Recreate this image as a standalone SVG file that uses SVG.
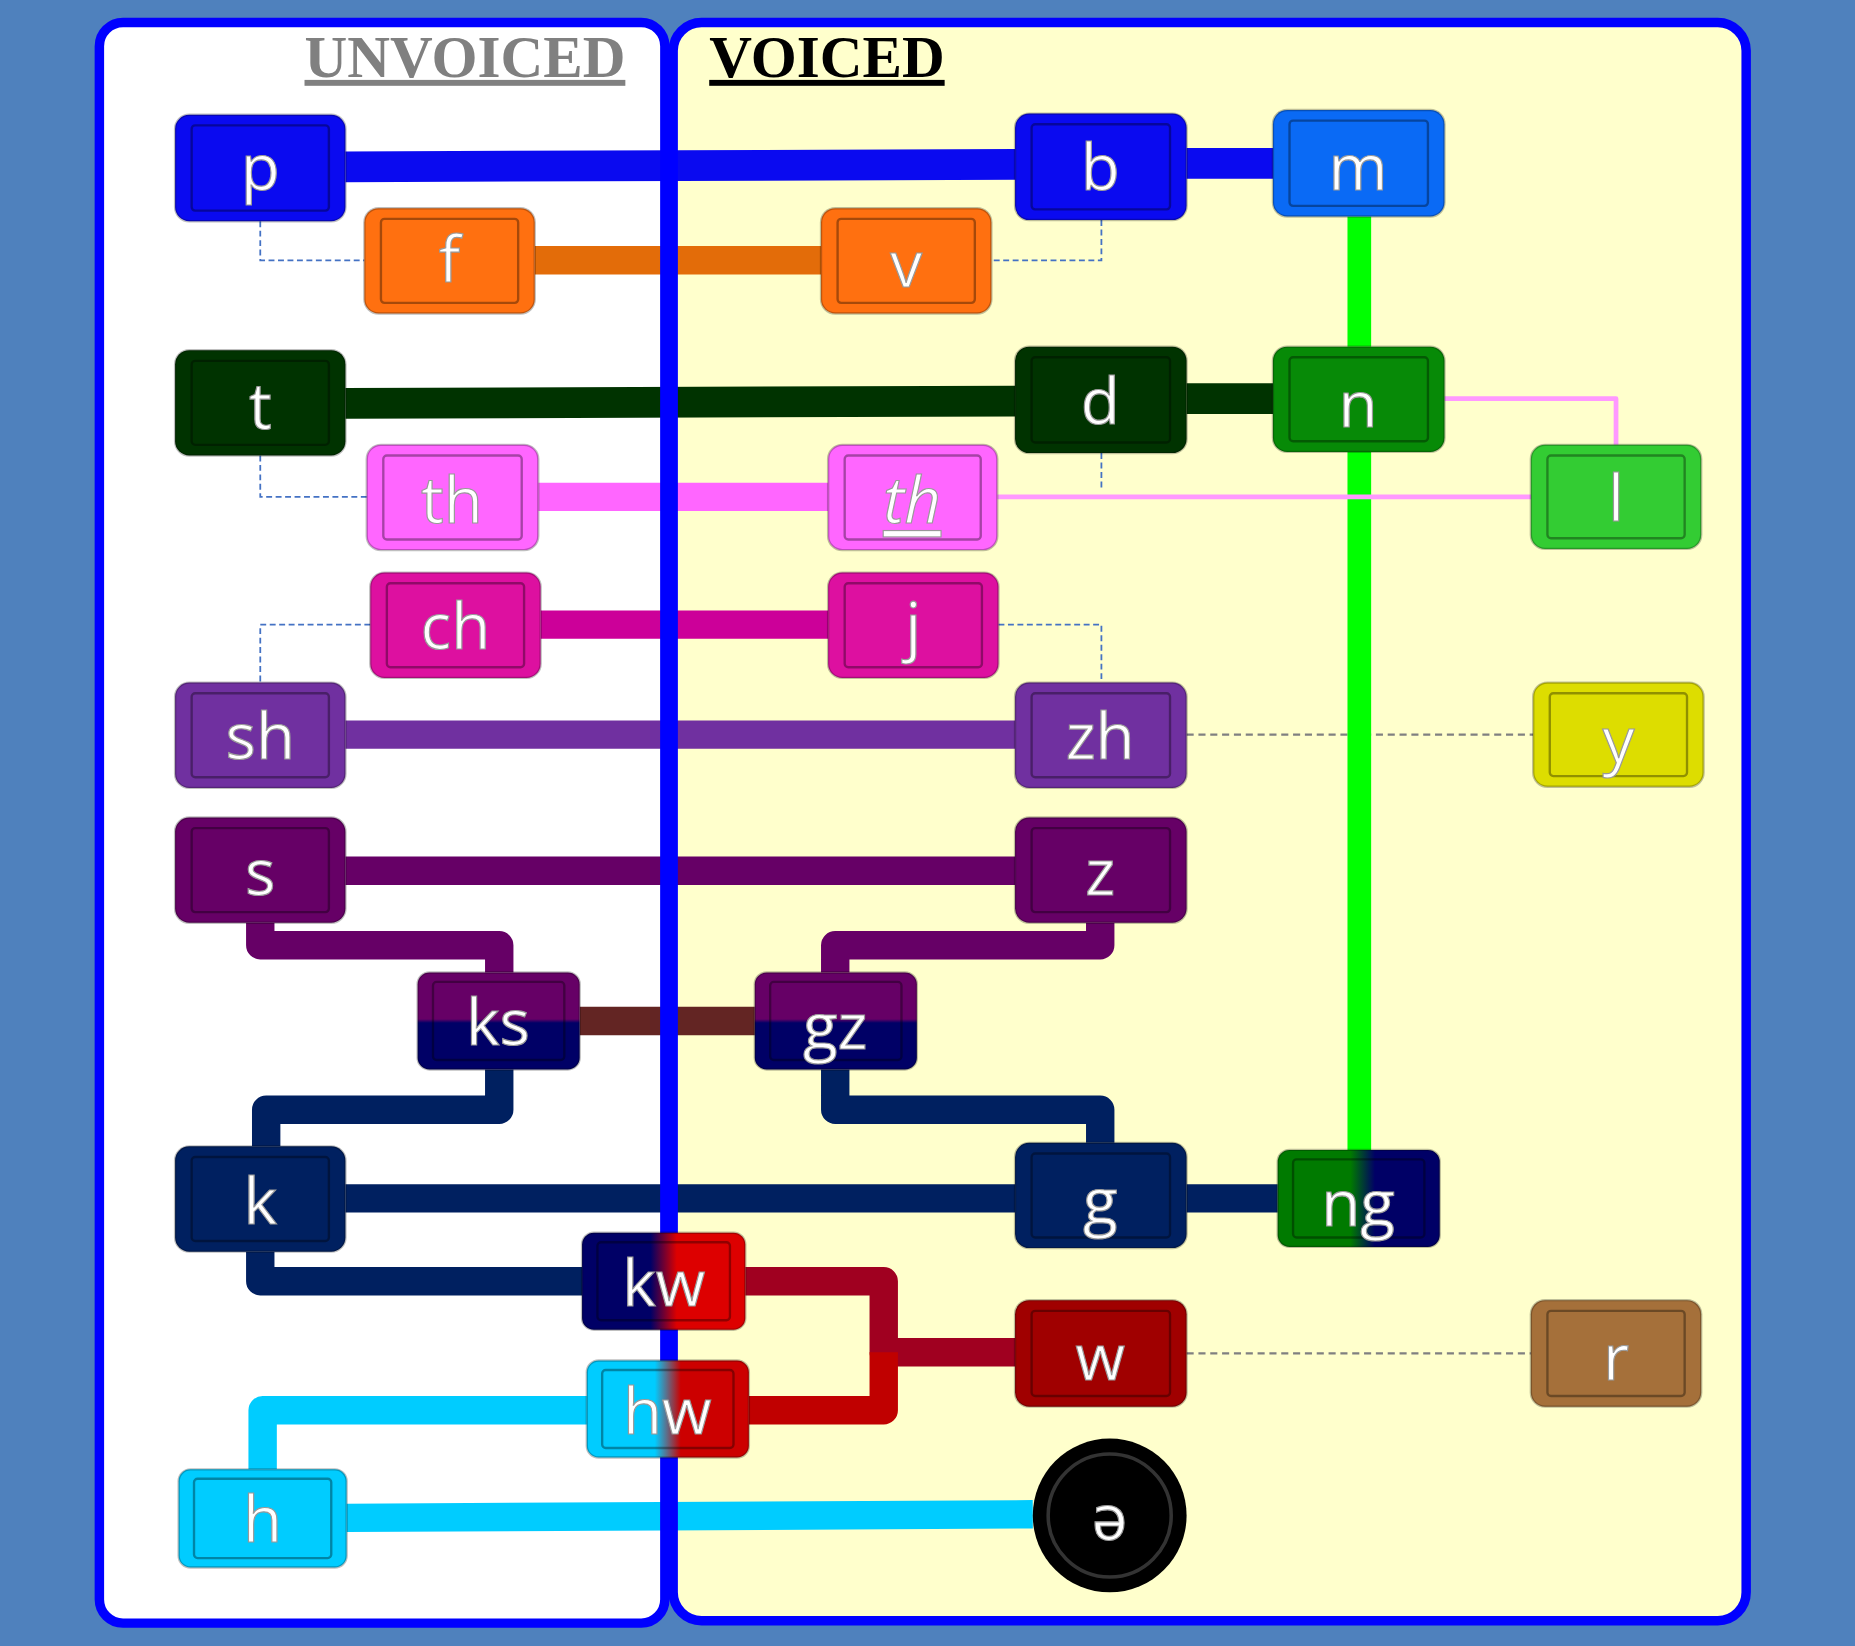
<svg xmlns="http://www.w3.org/2000/svg" width="1855" height="1646" viewBox="0 0 1855 1646">
<style>
.nd{stroke:rgba(0,0,0,0.25);stroke-width:2}
.in{fill:none;stroke:rgba(0,0,0,0.35);stroke-width:2}
.lb{font-family:"Open Sans","Noto Sans",sans-serif;font-size:54px;fill:#fff;text-anchor:middle;dominant-baseline:central;stroke:#999;stroke-width:1}
.c{fill:none;stroke-linejoin:round}
.dash{fill:none;stroke:#4472c4;stroke-width:1.5;stroke-dasharray:5 3}
.gd{fill:none;stroke:#808080;stroke-width:2;stroke-dasharray:6 4}
.hd{font-family:"Liberation Serif",serif;font-weight:bold;font-size:50px;text-decoration:underline}
</style>
<defs>
<linearGradient id="gks" x1="0" y1="0" x2="0" y2="1"><stop offset="0.48" stop-color="#660066"/><stop offset="0.52" stop-color="#000066"/></linearGradient>
<linearGradient id="gng" x1="0" y1="0" x2="1" y2="0"><stop offset="0.45" stop-color="#007a00"/><stop offset="0.6" stop-color="#000066"/></linearGradient>
<linearGradient id="gkw" x1="0" y1="0" x2="1" y2="0"><stop offset="0.42" stop-color="#000066"/><stop offset="0.58" stop-color="#dd0000"/></linearGradient>
<linearGradient id="ghw" x1="0" y1="0" x2="1" y2="0"><stop offset="0.42" stop-color="#00ccff"/><stop offset="0.58" stop-color="#cc0000"/></linearGradient>
</defs>
<rect width="1855" height="1646" fill="#4f81bd"/>
<g transform="scale(1.18304)">
<g id="panels">
<rect x="84" y="19" width="478" height="1353" rx="20" fill="#ffffff"/>
<rect x="569" y="19" width="907" height="1351" rx="24" fill="#ffffcc"/>
<text class="hd" x="393" y="65" fill="#808080" text-anchor="middle">UNVOICED</text>
<text class="hd" x="699" y="65" fill="#000" text-anchor="middle">VOICED</text>
</g>
<g id="connectors">
<path class="dash" d="M220 187V220H308M931 186V220H838M220 385V420H310M931 383V415M313 528H220V577M844 528H931V577"/>
<path class="gd" d="M1003 621H1296M1003 1144H1294"/>
<path class="c" stroke="#0a0af0" stroke-width="26" d="M292 141L858 139M1003 138H1076"/>
<path class="c" stroke="#e36c09" stroke-width="24" d="M452 220H694"/>
<path class="c" stroke="#00ff00" stroke-width="20" d="M1149 183V293M1149 382V972"/>
<path class="c" stroke="#003300" stroke-width="26" d="M292 341L858 339M1003 337H1076"/>
<path class="c" stroke="#ff66ff" stroke-width="24" d="M455 420H700"/>
<path class="c" stroke="#ff99ff" stroke-width="4" d="M843 420H1296M1221 337H1366V376"/>
<path class="c" stroke="#cc0099" stroke-width="24" d="M457 528H700"/>
<path class="c" stroke="#7030a0" stroke-width="24" d="M292 621H858"/>
<path class="c" stroke="#660066" stroke-width="24" d="M292 736H858M220 780V799H422V822M930 780V799H706V822"/>
<path class="c" stroke="#632523" stroke-width="24" d="M490 863H638"/>
<path class="c" stroke="#002060" stroke-width="24" d="M422 904V938H225V969M706 904V938H930V966M292 1013H858M1003 1013H1080M220 1058V1083H492"/>
<path class="c" stroke="#a00020" stroke-width="24" d="M630 1083H747V1143H858"/>
<path class="c" stroke="#c00000" stroke-width="24" d="M633 1192H747V1143"/>
<path class="c" stroke="#00ccff" stroke-width="24" d="M496 1192H222V1242M293 1283L873 1280"/>
</g>
<g id="divider" fill="none" stroke="#0000ff" stroke-width="8">
<rect x="84" y="19" width="478" height="1353" rx="20"/>
<rect x="569" y="19" width="907" height="1351" rx="24"/>
</g>
<g id="n_p"><rect class="nd" x="148" y="97" width="144" height="90" rx="12" fill="#0a0af0"/><rect class="in" x="162" y="106" width="116" height="72" rx="3"/><text class="lb" x="220" y="140">p</text></g>
<g id="n_b"><rect class="nd" x="858" y="96" width="145" height="90" rx="12" fill="#0a0af0"/><rect class="in" x="872" y="105" width="117" height="72" rx="3"/><text class="lb" x="930" y="140">b</text></g>
<g id="n_m"><rect class="nd" x="1076" y="93" width="145" height="90" rx="12" fill="#0a6af5"/><rect class="in" x="1090" y="102" width="117" height="72" rx="3"/><text class="lb" x="1148" y="140">m</text></g>
<g id="n_f"><rect class="nd" x="308" y="176" width="144" height="89" rx="12" fill="#ff7010"/><rect class="in" x="322" y="185" width="116" height="71" rx="3"/><text class="lb" x="380" y="218">f</text></g>
<g id="n_v"><rect class="nd" x="694" y="176" width="144" height="89" rx="12" fill="#ff7010"/><rect class="in" x="708" y="185" width="116" height="71" rx="3"/><text class="lb" x="766" y="222">v</text></g>
<g id="n_t"><rect class="nd" x="148" y="296" width="144" height="89" rx="12" fill="#003300"/><rect class="in" x="162" y="305" width="116" height="71" rx="3"/><text class="lb" x="220" y="342">t</text></g>
<g id="n_d"><rect class="nd" x="858" y="293" width="145" height="90" rx="12" fill="#003300"/><rect class="in" x="872" y="302" width="117" height="72" rx="3"/><text class="lb" x="930" y="338">d</text></g>
<g id="n_n"><rect class="nd" x="1076" y="293" width="145" height="89" rx="12" fill="#078a07"/><rect class="in" x="1090" y="302" width="117" height="71" rx="3"/><text class="lb" x="1148" y="340">n</text></g>
<g id="n_th"><rect class="nd" x="310" y="376" width="145" height="89" rx="12" fill="#ff66ff"/><rect class="in" x="324" y="385" width="117" height="71" rx="3"/><text class="lb" x="382" y="421">th</text></g>
<g id="n_th2"><rect class="nd" x="700" y="376" width="143" height="89" rx="12" fill="#ff66ff"/><rect class="in" x="714" y="385" width="115" height="71" rx="3"/><text class="lb" x="771" y="421" font-style="italic" text-decoration="underline">th</text></g>
<g id="n_l"><rect class="nd" x="1294" y="376" width="144" height="88" rx="12" fill="#33cc33"/><rect class="in" x="1308" y="385" width="116" height="70" rx="3"/><text class="lb" x="1366" y="420">l</text></g>
<g id="n_ch"><rect class="nd" x="313" y="484" width="144" height="89" rx="12" fill="#dd10a0"/><rect class="in" x="327" y="493" width="116" height="71" rx="3"/><text class="lb" x="385" y="528">ch</text></g>
<g id="n_j"><rect class="nd" x="700" y="484" width="144" height="89" rx="12" fill="#dd10a0"/><rect class="in" x="714" y="493" width="116" height="71" rx="3"/><text class="lb" x="772" y="528">j</text></g>
<g id="n_sh"><rect class="nd" x="148" y="577" width="144" height="89" rx="12" fill="#7030a0"/><rect class="in" x="162" y="586" width="116" height="71" rx="3"/><text class="lb" x="220" y="621">sh</text></g>
<g id="n_zh"><rect class="nd" x="858" y="577" width="145" height="89" rx="12" fill="#7030a0"/><rect class="in" x="872" y="586" width="117" height="71" rx="3"/><text class="lb" x="930" y="621">zh</text></g>
<g id="n_y"><rect class="nd" x="1296" y="577" width="144" height="88" rx="12" fill="#dddd00"/><rect class="in" x="1310" y="586" width="116" height="70" rx="3"/><text class="lb" x="1368" y="624">y</text></g>
<g id="n_s"><rect class="nd" x="148" y="691" width="144" height="89" rx="12" fill="#660066"/><rect class="in" x="162" y="700" width="116" height="71" rx="3"/><text class="lb" x="220" y="736">s</text></g>
<g id="n_z"><rect class="nd" x="858" y="691" width="145" height="89" rx="12" fill="#660066"/><rect class="in" x="872" y="700" width="117" height="71" rx="3"/><text class="lb" x="930" y="736">z</text></g>
<g id="n_ks"><rect class="nd" x="353" y="822" width="137" height="82" rx="10" fill="url(#gks)"/><rect class="in" x="366" y="830" width="111" height="66" rx="3"/><text class="lb" x="421" y="863">ks</text></g>
<g id="n_gz"><rect class="nd" x="638" y="822" width="137" height="82" rx="10" fill="url(#gks)"/><rect class="in" x="651" y="830" width="111" height="66" rx="3"/><text class="lb" x="706" y="866">gz</text></g>
<g id="n_k"><rect class="nd" x="148" y="969" width="144" height="89" rx="12" fill="#002060"/><rect class="in" x="162" y="978" width="116" height="71" rx="3"/><text class="lb" x="220" y="1014">k</text></g>
<g id="n_g"><rect class="nd" x="858" y="966" width="145" height="89" rx="12" fill="#002060"/><rect class="in" x="872" y="975" width="117" height="71" rx="3"/><text class="lb" x="930" y="1014">g</text></g>
<g id="n_ng"><rect class="nd" x="1080" y="972" width="137" height="82" rx="10" fill="url(#gng)"/><rect class="in" x="1093" y="980" width="111" height="66" rx="3"/><text class="lb" x="1148" y="1016">ng</text></g>
<g id="n_kw"><rect class="nd" x="492" y="1042" width="138" height="82" rx="10" fill="url(#gkw)"/><rect class="in" x="505" y="1050" width="112" height="66" rx="3"/><text class="lb" x="561" y="1083">kw</text></g>
<g id="n_w"><rect class="nd" x="858" y="1099" width="145" height="90" rx="12" fill="#a00000"/><rect class="in" x="872" y="1108" width="117" height="72" rx="3"/><text class="lb" x="930" y="1146">w</text></g>
<g id="n_r"><rect class="nd" x="1294" y="1099" width="144" height="90" rx="12" fill="#a5703a"/><rect class="in" x="1308" y="1108" width="116" height="72" rx="3"/><text class="lb" x="1366" y="1146">r</text></g>
<g id="n_hw"><rect class="nd" x="496" y="1150" width="137" height="82" rx="10" fill="url(#ghw)"/><rect class="in" x="509" y="1158" width="111" height="66" rx="3"/><text class="lb" x="564" y="1191">hw</text></g>
<g id="n_h"><rect class="nd" x="151" y="1242" width="142" height="83" rx="10" fill="#00ccff"/><rect class="in" x="164" y="1250" width="116" height="67" rx="3"/><text class="lb" x="222" y="1283">h</text></g>
<g id="n_schwa"><circle cx="938" cy="1281" r="65" fill="#000"/><circle cx="938" cy="1281" r="52" fill="none" stroke="#333" stroke-width="3"/><text class="lb" x="938" y="1281">ə</text></g>
</g>
</svg>
